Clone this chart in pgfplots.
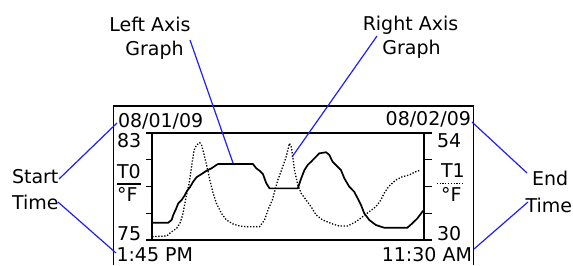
\documentclass[border=0pt]{standalone}
\usepackage{pgfplots}
\pgfplotsset{compat=1.18}
\usepackage{fontspec}
\setmainfont{DejaVu Sans}
\definecolor{callout}{RGB}{30,30,255}
\begin{document}
\begin{tikzpicture}[x=1bp,y=1bp,
  every node/.style={font=\fontsize{19bp}{22bp}\selectfont, inner sep=0pt, outer sep=0pt}]
\useasboundingbox (0,0) rectangle (573,265);
% outer frame
\draw[line width=1.6bp] (113.5,0) -- (113.5,159.3) -- (473.3,159.3) -- (473.3,0);
% left axis (T0, solid)
\begin{axis}[at={(152bp,25bp)}, anchor=south west, scale only axis,
  width=272bp, height=107bp,
  xmin=13.75, xmax=35.5, ymin=75, ymax=83,
  xtick=\empty, ytick={75,77,79,81,83}, yticklabels={},
  axis line style={line width=1.6bp},
  tick align=outside, major tick length=6bp,
  tick style={line width=1.3bp, black},
  ytick pos=left, clip=false]
\addplot[black, line width=1.7bp, line join=round] coordinates {
(13.77,76.29) (15.05,76.29) (15.32,76.50) (15.45,76.87) (15.66,77.30) (15.85,77.74)
(16.12,77.99) (16.38,78.36) (16.56,78.69) (16.78,78.94) (17.04,79.36) (17.31,79.69)
(17.71,79.93) (18.11,80.18) (18.51,80.36) (18.90,80.61) (19.03,80.68) (21.82,80.68)
(22.09,80.36) (22.35,80.18) (22.62,79.93) (22.89,79.24) (23.15,78.86) (25.41,78.86)
(25.68,79.61) (25.94,80.23) (26.20,80.61) (26.47,80.85) (26.74,81.11) (27.13,81.48)
(27.67,81.56) (27.93,81.36) (28.19,80.85) (28.59,80.48) (28.86,80.23) (29.13,79.61)
(29.52,78.99) (29.92,78.61) (30.19,78.12) (30.46,77.62) (30.72,77.00) (31.12,76.50)
(31.65,76.12) (32.31,75.92) (34.17,75.92) (34.57,76.25) (34.97,76.62) (35.37,77.12)
(35.50,77.24)};
\end{axis}
% right axis (T1, dotted)
\begin{axis}[at={(152bp,25bp)}, anchor=south west, scale only axis,
  width=272bp, height=107bp,
  xmin=13.75, xmax=35.5, ymin=30, ymax=54,
  axis x line=none, axis y line*=right,
  xtick=\empty, ytick={30,36,42,48,54}, yticklabels={},
  axis line style={line width=1.6bp},
  tick align=outside, major tick length=8bp,
  tick style={line width=1.3bp, black}]
\addplot[black, line width=1.3bp, dash pattern=on 1.3bp off 1.7bp] coordinates {
(13.77,30.74) (14.92,30.90) (15.32,31.86) (15.72,32.62) (15.98,33.74) (16.20,35.61)
(16.38,38.23) (16.56,40.83) (16.72,42.72) (16.86,45.32) (16.99,47.94) (17.12,50.19)
(17.31,51.31) (17.57,51.82) (17.71,51.31) (17.89,49.45) (18.11,46.82) (18.24,45.32)
(18.37,43.46) (18.64,40.47) (18.90,38.23) (19.30,35.99) (19.70,34.49) (20.23,33.59)
(20.76,33.14) (21.29,32.98) (22.35,32.98) (22.75,34.49) (23.02,36.73) (23.37,38.97)
(23.55,40.83) (23.81,43.46) (24.16,46.08) (24.48,48.68) (24.74,51.69) (24.88,50.93)
(25.01,48.68) (25.14,45.70) (25.41,42.34) (25.68,40.47) (26.07,38.97) (26.47,37.47)
(26.87,35.61) (27.40,34.49) (28.19,33.59) (28.73,33.14) (29.39,33.14) (30.06,34.10)
(30.59,35.23) (31.12,36.35) (31.65,37.47) (32.05,38.97) (32.31,40.47) (32.71,42.11)
(33.25,43.46) (33.78,44.20) (34.31,44.58) (34.84,45.32) (35.24,45.70)};
\end{axis}
% dates and times
\node[anchor=base west] at (118,138) {08/01/09};
\node[anchor=base east] at (471,140) {08/02/09};
\node[anchor=base west, text depth=0pt] at (116.5,3.3) {1:45 PM};
\node[anchor=base east, text depth=0pt] at (472,3.3) {11:30 AM};
% left axis labels
\node[anchor=base west] at (117,118) {83};
\node[anchor=base west] at (117,87) {T0};
\draw[line width=1.2bp] (117,81) -- (141,81);
\node[anchor=base west] at (117,63.3) {°F};
\node[anchor=base west] at (117,25) {75};
% right axis labels
\node[anchor=base west] at (437,118) {54};
\node[anchor=base west] at (441,88) {T1};
\draw[line width=1.2bp, dash pattern=on 1.2bp off 1.6bp] (436.7,81.7) -- (463,81.7);
\node[anchor=base west] at (441,63.3) {°F};
\node[anchor=base west] at (437,25) {30};
% callout texts
\node[anchor=base] at (150,234) {Left Axis};
\node[anchor=base] at (154.5,210) {Graph};
\node[anchor=base] at (410.5,235) {Right Axis};
\node[anchor=base] at (411.5,211) {Graph};
\node[anchor=base west] at (12,82) {Start};
\node[anchor=base west] at (12,56) {Time};
\node[anchor=base west] at (532,80) {End};
\node[anchor=base west] at (525.5,53) {Time};
% callout lines
\begin{scope}[callout, line width=1.2bp]
\draw (190,225) -- (233,102);
\draw (377,229) -- (292,108);
\draw (59,86) -- (117,142);
\draw (58,63) -- (116,12);
\draw (527,92) -- (472,143);
\draw (528,63) -- (474,16);
\end{scope}
\end{tikzpicture}
\end{document}
